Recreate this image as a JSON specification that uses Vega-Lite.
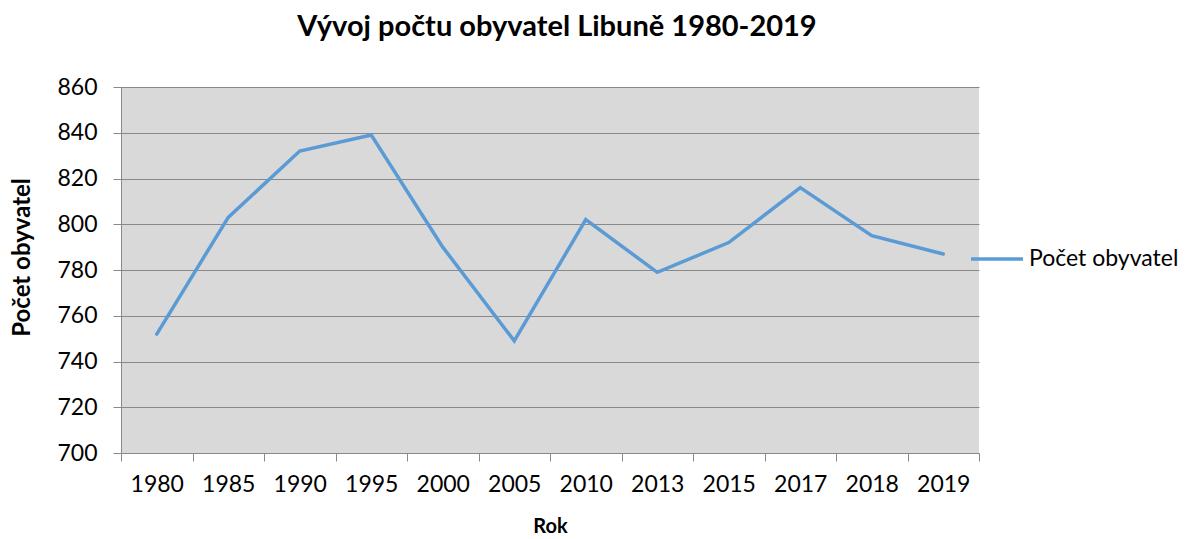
{
  "$schema": "https://vega.github.io/schema/vega-lite/v6.json",
  "width": 858,
  "height": 366,
  "autosize": {"type": "none"},
  "padding": {"left": 121, "top": 87, "right": 224, "bottom": 86},
  "background": "white",
  "title": {
    "text": "Vývoj počtu obyvatel Libuně 1980-2019",
    "font": "Lato",
    "fontSize": 29,
    "fontWeight": "bold",
    "color": "#000000",
    "anchor": "middle",
    "offset": 34,
    "dx": 7
  },
  "config": {
    "view": {"fill": "#D9D9D9", "stroke": null},
    "font": "Lato"
  },
  "data": {
    "values": [
      {"Rok": "1980", "Počet obyvatel": 752, "serie": "Počet obyvatel"},
      {"Rok": "1985", "Počet obyvatel": 803, "serie": "Počet obyvatel"},
      {"Rok": "1990", "Počet obyvatel": 832, "serie": "Počet obyvatel"},
      {"Rok": "1995", "Počet obyvatel": 839, "serie": "Počet obyvatel"},
      {"Rok": "2000", "Počet obyvatel": 790, "serie": "Počet obyvatel"},
      {"Rok": "2005", "Počet obyvatel": 749, "serie": "Počet obyvatel"},
      {"Rok": "2010", "Počet obyvatel": 802, "serie": "Počet obyvatel"},
      {"Rok": "2013", "Počet obyvatel": 779, "serie": "Počet obyvatel"},
      {"Rok": "2015", "Počet obyvatel": 792, "serie": "Počet obyvatel"},
      {"Rok": "2017", "Počet obyvatel": 816, "serie": "Počet obyvatel"},
      {"Rok": "2018", "Počet obyvatel": 795, "serie": "Počet obyvatel"},
      {"Rok": "2019", "Počet obyvatel": 787, "serie": "Počet obyvatel"}
    ]
  },
  "mark": {"type": "line", "strokeWidth": 3.5, "strokeCap": "round", "strokeJoin": "miter"},
  "encoding": {
    "x": {
      "field": "Rok",
      "type": "ordinal",
      "scale": {"type": "band", "paddingInner": 0, "paddingOuter": 0},
      "axis": {
        "title": "Rok",
        "titleFont": "Lato",
        "titleFontSize": 20,
        "titleFontWeight": "bold",
        "titleColor": "#000000",
        "titlePadding": 20,
        "labelAngle": 0,
        "labelFont": "Lato",
        "labelFontSize": 23,
        "labelColor": "#000000",
        "labelPadding": 12,
        "tickBand": "extent",
        "tickSize": 8,
        "tickColor": "#898989",
        "domainColor": "#898989",
        "grid": false
      }
    },
    "y": {
      "field": "Počet obyvatel",
      "type": "quantitative",
      "scale": {"domain": [700, 860], "nice": false, "zero": false},
      "axis": {
        "title": "Počet obyvatel",
        "titleFont": "Lato",
        "titleFontSize": 24,
        "titleFontWeight": "bold",
        "titleColor": "#000000",
        "titlePadding": 22,
        "titleY": 170,
        "values": [700, 720, 740, 760, 780, 800, 820, 840, 860],
        "labelFont": "Lato",
        "labelFontSize": 23,
        "labelColor": "#000000",
        "labelPadding": 16,
        "tickSize": 8,
        "tickColor": "#898989",
        "domainColor": "#898989",
        "gridColor": "#898989",
        "gridWidth": 1,
        "gridOpacity": 1
      }
    },
    "color": {
      "field": "serie",
      "type": "nominal",
      "scale": {"range": ["#5B9BD5"]},
      "legend": {
        "title": null,
        "orient": "none",
        "legendX": 848,
        "legendY": 144,
        "symbolType": "stroke",
        "symbolSize": 2700,
        "symbolStrokeWidth": 3.5,
        "labelFont": "Lato",
        "labelFontSize": 23,
        "labelColor": "#000000",
        "labelOffset": 4
      }
    }
  }
}
